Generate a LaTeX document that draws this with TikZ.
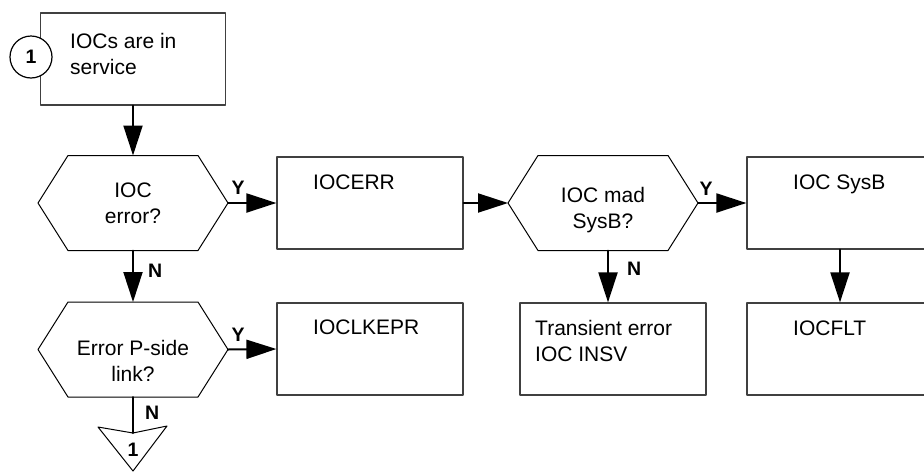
\documentclass[tikz,border=0pt]{standalone}
\usepackage{fontspec}
\setmainfont{Liberation Sans}
\usetikzlibrary{arrows.meta,calc}

\tikzset{
  caja/.style={draw=black!75, line width=1.2pt, minimum width=186pt, minimum height=92pt, inner sep=0pt},
  texto/.style={font=\fontsize{21}{26}\selectfont, align=left, inner sep=0pt},
  rotulo/.style={font=\fontsize{19.5}{19.5}\selectfont\bfseries, inner sep=0pt},
  flecha/.style={line width=2pt, -{Triangle[length=30pt,width=19pt]}},
  linea/.style={line width=2pt},
}

% el hexagono de decision: nombre, centro
\newcommand{\rombo}[2]{%
  \coordinate (#1) at (#2);
  \draw[line width=1pt] ($(#1)+(-95,0)$) coordinate (#1-w)
    -- ++(30,-47.5) -- ++(130,0) -- ++(30,47.5) coordinate (#1-e)
    -- ++(-30,47.5) -- ++(-130,0) -- cycle;
  \coordinate (#1-n) at ($(#1)+(0,-47.5)$);
  \coordinate (#1-s) at ($(#1)+(0,47.5)$);
}

\begin{document}
\begin{tikzpicture}[x=1pt, y=-1pt, line cap=round, line join=round]
  \useasboundingbox (0,0) rectangle (924,472);
  % las cajas
  \node[caja, minimum width=185pt] (inicio) at (133,59) {};
  \node[texto, anchor=north west] (inicio-t) at (70,33) {IOCs are in\\service};
  \node[caja] (iocerr) at (370,203) {};
  \node[texto, anchor=north west] (iocerr-t) at (313,175) {IOCERR};
  \node[caja] (lkepr) at (370,349) {};
  \node[texto, anchor=north west] (lkepr-t) at (313,320) {IOCLKEPR};
  \node[caja] (trans) at (613,349) {};
  \node[texto, anchor=north west] (trans-t) at (535,320) {Transient error\\IOC INSV};
  \node[caja] (sysb) at (840,203) {};
  \node[texto, anchor=north west] (sysb-t) at (793,175) {IOC SysB};
  \node[caja] (flt) at (840,349) {};
  \node[texto, anchor=north west] (flt-t) at (793,321) {IOCFLT};
  % las decisiones
  \rombo{err}{133,203}
  \node[texto, align=center] (err-t) at (133,203) {IOC\\error?};
  \rombo{pside}{133,349.5}
  \node[texto, align=center] (pside-t) at (133,361) {Error P-side\\link?};
  \rombo{mad}{603,203}
  \node[texto, align=center] (mad-t) at (603,210) {IOC mad\\SysB?};
  % los conectores 1
  \node[rotulo, draw, circle, line width=1.2pt, fill=white, minimum size=42pt] (ent) at (31,57) {1};
  \draw[line width=1pt] (98,427) -- (133,433) coordinate (sal) -- (167,426) -- (133,471) -- cycle;
  \node[rotulo] (sal-t) at (133,450) {1};
  % las flechas
  \draw[flecha] (inicio.south) -- (err-n);
  \draw[flecha] (err-e) -- (iocerr.west) node[rotulo, pos=0.21, above=8pt] {Y};
  \draw[flecha] (err-s) -- (pside-n) node[rotulo, pos=0.4, right=14pt] {N};
  \draw[flecha] (pside-e) -- (lkepr.west) node[rotulo, pos=0.21, above=7pt] {Y};
  \draw[linea] (pside-s) -- (sal) node[rotulo, pos=0.44, right=11pt] {N};
  \draw[flecha] (iocerr.east) -- (mad-w);
  \draw[flecha] (mad-e) -- (sysb.west) node[rotulo, pos=0.17, above=7pt] {Y};
  \draw[flecha] ([xshift=5pt]mad-s) -- ([xshift=-5pt]trans.north) node[rotulo, pos=0.36, right=18pt] {N};
  \draw[flecha] (sysb.south) -- (flt.north);
\end{tikzpicture}
\end{document}
